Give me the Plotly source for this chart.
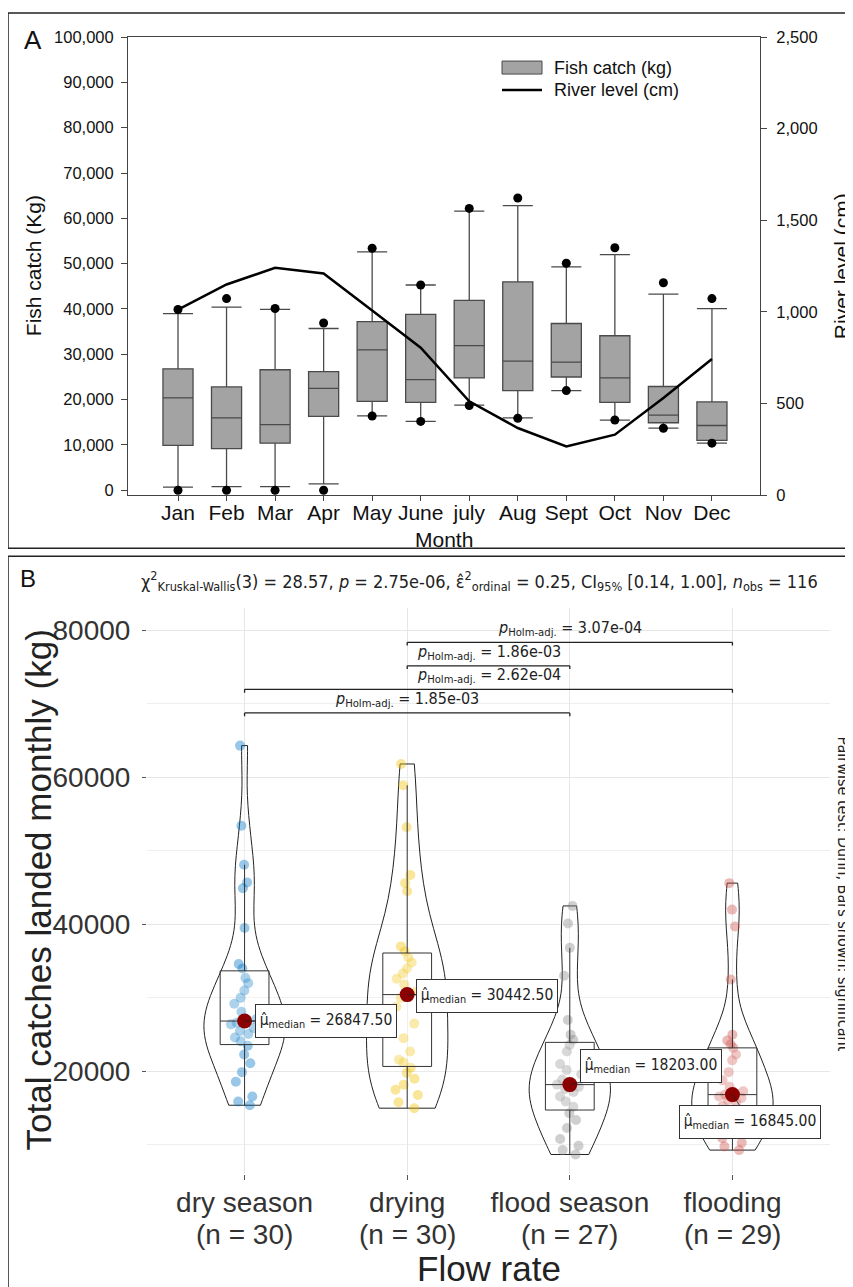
import numpy as np
import plotly.graph_objects as go

# ---------------- Panel A data (monthly fish catch & river level) ----------------
months = ["Jan", "Feb", "Mar", "Apr", "May", "June", "july", "Aug", "Sept", "Oct", "Nov", "Dec"]
catch_min = [0, 0, 0, 0, 16400, 15200, 18700, 15900, 22000, 15500, 13700, 10400]
catch_whisker_low = [700, 800, 800, 1400, 16400, 15200, 18800, 16000, 22000, 15500, 13700, 10400]
catch_q1 = [9900, 9200, 10400, 16300, 19600, 19400, 24800, 22000, 25000, 19400, 14900, 11000]
catch_median = [20400, 16000, 14500, 22500, 31000, 24400, 31900, 28500, 28300, 24800, 16600, 14300]
catch_q3 = [26800, 22800, 26600, 26200, 37200, 38800, 41900, 46000, 36800, 34100, 22900, 19500]
catch_whisker_high = [39000, 40400, 39900, 35700, 52600, 45300, 61600, 62800, 49300, 52000, 43300, 40100]
catch_max = [39900, 42300, 40100, 36900, 53400, 45300, 62200, 64500, 50100, 53500, 45800, 42300]
river_level_cm = [1013, 1150, 1241, 1210, 1008, 805, 513, 367, 267, 331, 531, 744]
catch_ticks = [0, 10000, 20000, 30000, 40000, 50000, 60000, 70000, 80000, 90000, 100000]
river_ticks = [0, 500, 1000, 1500, 2000, 2500]

# ---------------- Panel B data (catch by flow rate) ----------------
flow_groups = ["dry season", "drying", "flood season", "flooding"]
dry_season = [15400, 15900, 16600, 18600, 19900, 21100, 22300, 23500, 24100, 24600,
              25100, 25500, 25900, 26400, 26600, 27095, 28100, 29200, 30000, 31000,
              32000, 32700, 34000, 34600, 39500, 44900, 45700, 48100, 53400, 64300]
drying = [15000, 15800, 16800, 17500, 18200, 19000, 19800, 20500, 21200, 21600,
          22700, 24500, 26500, 28800, 30000, 30885, 31800, 32600, 33300, 34000,
          34800, 35500, 36300, 37000, 44500, 45600, 46700, 53200, 58900, 61800]
flood_season = [8700, 9300, 9900, 10800, 12300, 13400, 14300, 15200, 15900, 16600,
                17200, 17600, 17900, 18203, 18900, 19600, 20200, 21000, 22700, 23600,
                24300, 25000, 27000, 33000, 36800, 40100, 42500]
flooding = [9300, 9800, 10300, 10900, 11500, 12200, 13000, 14000, 14700, 15300,
            15800, 16100, 16400, 16600, 16845, 17300, 17900, 18800, 19900, 21500,
            22300, 23200, 23700, 24200, 25000, 32500, 39700, 42000, 45600]
group_colors = ["#0073C2", "#EFC000", "#868686", "#CD534C"]
pairwise = [(0, 2, "1.85e-03"), (0, 3, "2.62e-04"), (1, 2, "1.86e-03"), (1, 3, "3.07e-04")]
stats_text = ("χ<sup>2</sup><sub>Kruskal-Wallis</sub>(3) = 28.57, <i>p</i> = 2.75e-06, "
              "ε̂<sup>2</sup><sub>ordinal</sub> = 0.25, CI<sub>95%</sub> [0.14, 1.00], "
              "<i>n</i><sub>obs</sub> = 116")

# mapping from target-picture pixels to figure paper coordinates
OX, OY, SY = 8, 16.2, 0.9855
W, H = 845, 1290
def px(p):
    return (p - OX) / W
def py(p):
    return 1 - (p / SY - OY) / H

FONT = "Liberation Sans, Arial, sans-serif"
NARROW = "Liberation Sans Narrow, Arial Narrow, DejaVu Sans Condensed, sans-serif"

fig = go.Figure()

# ---------- Panel A ----------
midx = list(range(len(months)))
fig.add_trace(go.Box(
    x=midx, q1=catch_q1, median=catch_median, q3=catch_q3,
    lowerfence=catch_whisker_low, upperfence=catch_whisker_high,
    orientation="v", width=0.62, whiskerwidth=1, boxpoints=False,
    fillcolor="#A3A3A3", line=dict(color="#4A4A4A", width=1.3),
    xaxis="x", yaxis="y", showlegend=False, hoverinfo="skip"))
fig.add_trace(go.Scatter(
    x=midx + midx, y=catch_min + catch_max, mode="markers",
    marker=dict(color="black", size=9), xaxis="x", yaxis="y",
    showlegend=False, hoverinfo="skip"))
fig.add_trace(go.Scatter(
    x=midx, y=river_level_cm, mode="lines", line=dict(color="black", width=2.5),
    xaxis="x", yaxis="y2", showlegend=False, hoverinfo="skip"))

# ---------- Panel B ----------
groups_data = [dry_season, drying, flood_season, flooding]
for i, vals in enumerate(groups_data):
    fig.add_trace(go.Violin(
        x=[i] * len(vals), y=vals, xaxis="x2", yaxis="y3",
        width=0.5, scalegroup="flow", scalemode="width", spanmode="hard",
        points="all", jitter=0.35, pointpos=0,
        marker=dict(color=group_colors[i], opacity=0.4, size=10, line=dict(width=0)),
        line=dict(color="#222222", width=1), fillcolor="rgba(255,255,255,0.2)",
        showlegend=False, hoverinfo="skip"))

medians = []
for i, vals in enumerate(groups_data):
    v = np.array(vals, dtype=float)
    q1, med, q3 = np.percentile(v, [25, 50, 75])
    iqr = q3 - q1
    lf = v[v >= q1 - 1.5 * iqr].min()
    uf = v[v <= q3 + 1.5 * iqr].max()
    medians.append(med)
    fig.add_trace(go.Box(
        x=[i], q1=[q1], median=[med], q3=[q3], lowerfence=[lf], upperfence=[uf],
        orientation="v", width=0.3, whiskerwidth=0, boxpoints=False,
        fillcolor="rgba(255,255,255,0.2)", line=dict(color="#333333", width=1),
        xaxis="x2", yaxis="y3", showlegend=False, hoverinfo="skip"))

fig.add_trace(go.Scatter(
    x=list(range(len(flow_groups))), y=medians, mode="markers",
    marker=dict(color="#8B0000", size=15), xaxis="x2", yaxis="y3",
    showlegend=False, hoverinfo="skip"))

annotations = []
shapes = []

# median labels
label_offsets = [(81, 0), (80, 1), (81, -19), (18, 27)]
for i, med in enumerate(medians):
    ax, ay = label_offsets[i]
    annotations.append(dict(
        x=i, y=med, xref="x2", yref="y3", ax=ax, ay=ay, axref="pixel", ayref="pixel",
        showarrow=True, arrowhead=0, arrowwidth=0.8, arrowcolor="#222", standoff=0,
        text="μ̂<sub>median</sub> = %.2f" % med, width=132, height=24,
        font=dict(family=NARROW, size=15.5, color="#222"),
        bgcolor="white", bordercolor="#333", borderwidth=1, borderpad=4))

# significance bars
all_vals = np.concatenate([np.array(g, dtype=float) for g in groups_data])
top, rng = all_vals.max(), all_vals.max() - all_vals.min()
tip = rng * 0.008
for k, (g1, g2, pv) in enumerate(pairwise):
    yk = top + rng * (0.08 + 0.0575 * k)
    for (x0, y0, x1, y1) in [(g1, yk - tip, g1, yk), (g1, yk, g2, yk), (g2, yk, g2, yk - tip)]:
        shapes.append(dict(type="line", xref="x2", yref="y3", x0=x0, y0=y0, x1=x1, y1=y1,
                           line=dict(color="#222", width=1.3)))
    annotations.append(dict(
        x=(g1 + g2) / 2, y=yk, xref="x2", yref="y3", yanchor="bottom", yshift=1,
        showarrow=False, text="<i>p</i><sub>Holm-adj.</sub> = " + pv,
        font=dict(family=NARROW, size=16, color="#222")))

# texts
def txt(x, y, text, size, angle=0, xanchor="center", family=FONT, color="#111", xref="paper"):
    annotations.append(dict(x=px(x) if xref == "paper" else x, y=py(y), xref=xref, yref="paper",
                            text=text, showarrow=False, textangle=angle, xanchor=xanchor,
                            yanchor="middle", font=dict(family=family, size=size, color=color)))

txt(33, 39, "A", 26)
txt(33, 265, "Fish catch (Kg)", 21, angle=-90)
txt(841, 265, "River level (cm)", 21, angle=-90)
txt(444, 538, "Month", 21)
txt(552, 67, "Fish catch (kg)", 18, xanchor="left")
txt(552, 89, "River level (cm)", 18, xanchor="left")
txt(28, 577, "B", 24)
txt(139, 580, stats_text, 18, xanchor="left", family=NARROW, color="#222")
txt(39, 889, "Total catches landed monthly (kg)", 35, angle=-90, color="#222")
txt(489, 1267, "Flow rate", 35, color="#222")
txt(843, 892, "Pairwise test: Dunn, Bars shown: significant", 16, angle=90, family=NARROW, color="#222")
for i, g in enumerate(groups_data):
    txt(i, 1233, "(n = %d)" % len(g), 28, color="#333", xref="x2")

# legend swatches (panel A)
shapes.append(dict(type="rect", xref="paper", yref="paper", x0=px(502), x1=px(542),
                   y0=py(73), y1=py(60), fillcolor="#A3A3A3", line=dict(color="#4A4A4A", width=1)))
shapes.append(dict(type="line", xref="paper", yref="paper", x0=px(502), x1=px(542),
                   y0=py(89), y1=py(89), line=dict(color="black", width=2.5)))
# panel borders
shapes.append(dict(type="rect", xref="paper", yref="paper", x0=px(8), x1=px(880),
                   y0=py(547), y1=py(12), line=dict(color="#222", width=1.5)))
shapes.append(dict(type="rect", xref="paper", yref="paper", x0=px(8), x1=px(880),
                   y0=py(1320), y1=py(555), line=dict(color="#222", width=1.5)))

fig.update_layout(
    width=W, height=H, margin=dict(l=0, r=0, t=0, b=0),
    paper_bgcolor="white", plot_bgcolor="white",
    font=dict(family=FONT, color="#111"),
    boxmode="overlay", violinmode="overlay", showlegend=False,
    xaxis=dict(domain=[px(128), px(760)], range=[-1.03, 11.99], anchor="y",
               tickvals=midx, ticktext=months, ticks="outside", ticklen=5,
               tickcolor="#444", showline=True, mirror=True, linecolor="#444",
               linewidth=1, showgrid=False, zeroline=False, ticklabelstandoff=-7,
               tickfont=dict(size=21, color="#111")),
    yaxis=dict(domain=[py(494), py(36)], range=[-1104, 100000], anchor="x",
               tickvals=catch_ticks, tickformat=",d", ticks="outside", ticklen=6,
               tickcolor="#444", showline=True, linecolor="#444", linewidth=1,
               showgrid=False, zeroline=False, ticklabelstandoff=4,
               tickfont=dict(size=16.5, color="#111")),
    yaxis2=dict(overlaying="y", side="right", range=[0, 2500], anchor="x",
                tickvals=river_ticks, tickformat=",d", ticks="outside", ticklen=6,
                tickcolor="#444", showline=True, linecolor="#444", linewidth=1,
                showgrid=False, zeroline=False, ticklabelstandoff=6,
                tickfont=dict(size=16.5, color="#111")),
    xaxis2=dict(domain=[px(147), px(830)], range=[-0.6, 3.6], anchor="y3",
                tickvals=list(range(len(flow_groups))), ticktext=flow_groups,
                ticks="outside", ticklen=5, tickcolor="#555", showline=False,
                showgrid=True, gridcolor="#E6E6E6", zeroline=False, ticklabelstandoff=-1,
                tickfont=dict(size=28, color="#333")),
    yaxis3=dict(domain=[py(1172), py(606.7)], range=[6095, 83000], anchor="x2",
                tickvals=[20000, 40000, 60000, 80000], tickformat="d", ticks="outside",
                ticklen=4, tickcolor="#555", showline=False, showgrid=True,
                gridcolor="#E6E6E6", zeroline=False, ticklabelstandoff=6,
                minor=dict(tickvals=[10000, 30000, 50000, 70000], showgrid=True,
                           gridcolor="#EEEEEE", ticks=""),
                tickfont=dict(size=28, color="#333")),
    annotations=annotations, shapes=shapes)

fig.write_html("out.html")
